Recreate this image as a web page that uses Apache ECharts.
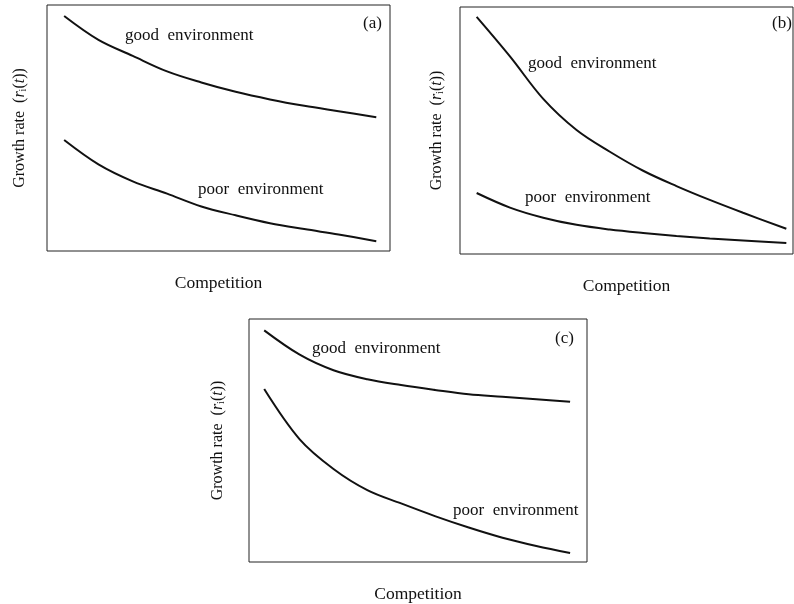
<!DOCTYPE html>
<html>
<head>
<meta charset="utf-8">
<script src="https://cdn.jsdelivr.net/npm/echarts@6/dist/echarts.min.js"></script>
<style>html,body{margin:0;padding:0;background:#fff}#c{width:794px;height:604px}</style>
</head>
<body>
<div id="c"></div>
<script>
// Panel (a)
const xA = [5, 15, 25, 35, 45, 55, 65, 75, 85, 96];
const goodA = [95.5, 85.8, 79.3, 73.0, 68.5, 64.7, 61.6, 59.0, 56.8, 54.4];
const poorA = [45.1, 35.2, 28.3, 23.3, 18.1, 14.5, 11.3, 8.9, 6.7, 4.0];
// Panel (b)
const xB = [5, 15, 25, 35, 45, 55, 65, 75, 85, 98];
const goodB = [96.0, 80.0, 62.8, 50.2, 41.4, 33.7, 27.5, 21.9, 16.7, 10.2];
const poorB = [24.7, 18.8, 14.7, 11.8, 9.9, 8.5, 7.3, 6.3, 5.5, 4.5];
// Panel (c)
const xC = [4.5, 15, 25, 35, 45, 55, 65, 75, 85, 95];
const goodC = [95.3, 85.3, 78.9, 75.2, 72.8, 70.8, 69.0, 68.0, 67.0, 65.9];
const poorC = [71.2, 50.5, 38.3, 29.6, 24.1, 18.9, 14.2, 10.0, 6.6, 3.7];

const panelTags = ['(a)', '(b)', '(c)'];
const xTitle = 'Competition';
const goodLabel = 'good  environment';
const poorLabel = 'poor  environment';

const FONT = '"Liberation Serif", "DejaVu Serif", serif';
const pair = (xs, ys) => xs.map((x, i) => [x, ys[i]]);

const grids = [
  {left: 47, top: 5, width: 343, height: 246},
  {left: 460, top: 7, width: 333, height: 247},
  {left: 249, top: 319, width: 338, height: 246}
];
const yGaps = [19, 15, 23];

const chart = echarts.init(document.getElementById('c'), null, {renderer: 'canvas'});

const yName = 'Growth rate  ({it|r}{sub|i}({it|t}))';
const richY = {
  it: {fontStyle: 'italic', fontFamily: FONT, fontSize: 16, color: '#111'},
  sub: {fontFamily: FONT, fontSize: 10, color: '#111', verticalAlign: 'bottom', lineHeight: 12, padding: [6, 0, 0, 0]}
};

const xAxes = grids.map((g, i) => ({
  type: 'value', gridIndex: i, min: 0, max: 100,
  name: xTitle, nameLocation: 'middle', nameGap: 23,
  nameTextStyle: {fontFamily: FONT, fontSize: 17.5, color: '#111'},
  axisLine: {show: false}, axisTick: {show: false}, axisLabel: {show: false}, splitLine: {show: false}
}));
const yAxes = grids.map((g, i) => ({
  type: 'value', gridIndex: i, min: 0, max: 100,
  name: yName, nameLocation: 'middle', nameGap: yGaps[i],
  nameTextStyle: {fontFamily: FONT, fontSize: 16, color: '#111', rich: richY},
  axisLine: {show: false}, axisTick: {show: false}, axisLabel: {show: false}, splitLine: {show: false}
}));

const lineStyle = {color: '#111', width: 2};
const mk = (data, i) => ({
  type: 'line', xAxisIndex: i, yAxisIndex: i, data: data, smooth: 0.35,
  showSymbol: false, symbol: 'none', lineStyle: lineStyle, silent: true, animation: false
});

const series = [
  mk(pair(xA, goodA), 0), mk(pair(xA, poorA), 0),
  mk(pair(xB, goodB), 1), mk(pair(xB, poorB), 1),
  mk(pair(xC, goodC), 2), mk(pair(xC, poorC), 2)
];

const txt = (x, y, s) => ({
  type: 'text', left: x, top: y - 10,
  style: {text: s, fontFamily: FONT, fontSize: 17, fill: '#111'}
});
const graphic = [
  txt(125, 37, goodLabel), txt(198, 191, poorLabel), txt(363, 25, panelTags[0]),
  txt(528, 65, goodLabel), txt(525, 199, poorLabel), txt(772, 25, panelTags[1]),
  txt(312, 350, goodLabel), txt(453, 512, poorLabel), txt(555, 340, panelTags[2])
];

chart.setOption({
  animation: false,
  backgroundColor: '#fff',
  grid: grids.map(g => Object.assign({show: true, borderColor: '#222', borderWidth: 1, backgroundColor: 'transparent'}, g)),
  xAxis: xAxes,
  yAxis: yAxes,
  series: series,
  graphic: graphic
});
</script>
</body>
</html>
